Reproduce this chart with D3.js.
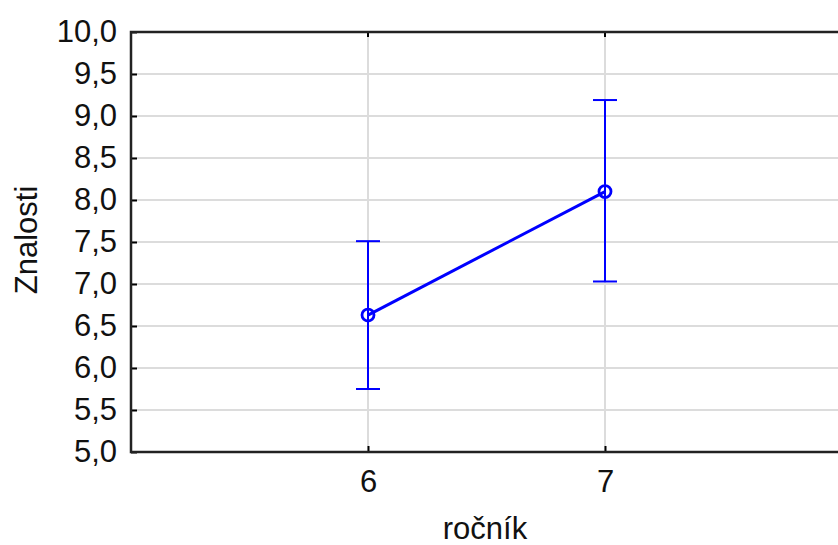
<!DOCTYPE html>
<html>
<head>
<meta charset="utf-8">
<script src="https://cdn.jsdelivr.net/npm/d3@7"></script>
<style>
  body { margin: 0; background: #fff; }
  svg text { font-family: "Liberation Sans", Arial, sans-serif; fill: #111; }
</style>
</head>
<body>
<div id="chart"></div>
<script>
const w = 838
const h = 545
const grades = [6, 7]
const means = [6.63, 8.10]
const lower = [5.75, 7.03]
const upper = [7.51, 9.19]
const yTicks = [5, 5.5, 6, 6.5, 7, 7.5, 8, 8.5, 9, 9.5, 10]
const xTitle = 'ročník'
const yTitle = 'Znalosti'

const pLeft = 131, pRight = 842, pTop = 32, pBottom = 452
const blue = '#0000ff'
const fs = '31px'

const svg = d3.select('#chart').append('svg')
    .attr('width', w)
    .attr('height', h)

const xScale = d3.scaleLinear().domain([5, 8]).range([pLeft, pRight])
const yScale = d3.scaleLinear().domain([5, 10]).range([pBottom, pTop])

// grid
svg.selectAll('.hgrid')
    .data(yTicks.slice(1, -1))
    .enter().append('line')
    .attr('x1', pLeft).attr('x2', pRight)
    .attr('y1', d => yScale(d)).attr('y2', d => yScale(d))
    .attr('stroke', '#dcdcdc').attr('stroke-width', 2)
svg.selectAll('.vgrid')
    .data(grades)
    .enter().append('line')
    .attr('x1', d => xScale(d)).attr('x2', d => xScale(d))
    .attr('y1', pTop).attr('y2', pBottom)
    .attr('stroke', '#dcdcdc').attr('stroke-width', 2)

// axes
const yAxis = d3.axisLeft(yScale).tickValues(yTicks).tickSize(-6).tickPadding(14)
    .tickFormat(d => d3.format('.1f')(d).replace('.', ','))
const gy = svg.append('g').attr('transform', 'translate(' + pLeft + ',0)').call(yAxis)
gy.selectAll('text').attr('font-size', fs).attr('fill', '#111')
gy.selectAll('line').attr('stroke', '#000').attr('stroke-width', 2)
gy.select('.domain').remove()

const xAxis = d3.axisBottom(xScale).tickValues(grades).tickSize(-6).tickPadding(18)
    .tickFormat(d3.format('d'))
const gx = svg.append('g').attr('transform', 'translate(0,' + pBottom + ')').call(xAxis)
gx.selectAll('text').attr('font-size', fs).attr('fill', '#111')
gx.selectAll('line').attr('stroke', '#000').attr('stroke-width', 2)
gx.select('.domain').remove()

svg.selectAll('.toptick')
    .data(grades)
    .enter().append('line')
    .attr('x1', d => xScale(d)).attr('x2', d => xScale(d))
    .attr('y1', pTop).attr('y2', pTop + 5)
    .attr('stroke', '#000').attr('stroke-width', 2)

// frame
svg.append('rect')
    .attr('x', pLeft).attr('y', pTop)
    .attr('width', pRight - pLeft).attr('height', pBottom - pTop)
    .attr('fill', 'none').attr('stroke', '#222').attr('stroke-width', 2.5)

// error bars
const pts = grades.map((g, i) => ({g: g, m: means[i], lo: lower[i], hi: upper[i]}))
const eb = svg.selectAll('.eb').data(pts).enter().append('g')
eb.append('line')
    .attr('x1', d => xScale(d.g)).attr('x2', d => xScale(d.g))
    .attr('y1', d => yScale(d.lo)).attr('y2', d => yScale(d.hi))
    .attr('stroke', blue).attr('stroke-width', 2)
eb.append('line')
    .attr('x1', d => xScale(d.g) - 12).attr('x2', d => xScale(d.g) + 12)
    .attr('y1', d => yScale(d.hi)).attr('y2', d => yScale(d.hi))
    .attr('stroke', blue).attr('stroke-width', 2)
eb.append('line')
    .attr('x1', d => xScale(d.g) - 12).attr('x2', d => xScale(d.g) + 12)
    .attr('y1', d => yScale(d.lo)).attr('y2', d => yScale(d.lo))
    .attr('stroke', blue).attr('stroke-width', 2)

// mean line
svg.append('path')
    .datum(pts)
    .attr('d', d3.line().x(d => xScale(d.g)).y(d => yScale(d.m)))
    .attr('fill', 'none').attr('stroke', blue).attr('stroke-width', 3)

svg.selectAll('.pt')
    .data(pts)
    .enter().append('circle')
    .attr('cx', d => xScale(d.g)).attr('cy', d => yScale(d.m))
    .attr('r', 6)
    .attr('fill', 'none').attr('stroke', blue).attr('stroke-width', 2.8)

// titles
svg.append('text')
    .attr('x', 485).attr('y', 539)
    .attr('text-anchor', 'middle').attr('font-size', fs)
    .text(xTitle)
svg.append('text')
    .attr('transform', 'translate(37,' + 240 + ') rotate(-90)')
    .attr('text-anchor', 'middle').attr('font-size', fs)
    .text(yTitle)
</script>
</body>
</html>
